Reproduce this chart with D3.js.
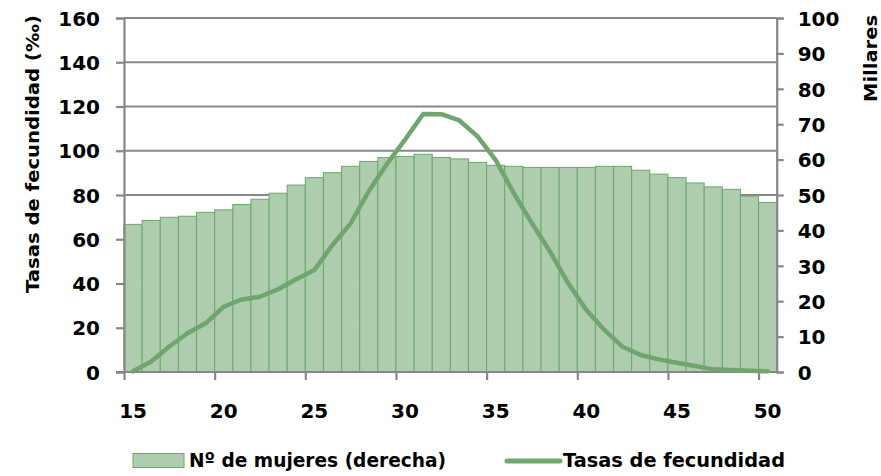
<!DOCTYPE html>
<html>
<head>
<meta charset="utf-8">
<script src="https://cdn.jsdelivr.net/npm/d3@7"></script>
<style>
html,body{margin:0;padding:0;background:#fff;}
svg{display:block;}
text{font-family:"DejaVu Sans",sans-serif;font-weight:bold;fill:#000;}
</style>
</head>
<body>
<svg id="chart" width="881" height="476"></svg>
<script>
const ages = [15,16,17,18,19,20,21,22,23,24,25,26,27,28,29,30,31,32,33,34,35,36,37,38,39,40,41,42,43,44,45,46,47,48,49,50];
const women = [41.7,42.8,43.7,44.0,45.1,45.8,47.3,48.8,50.5,52.8,54.9,56.3,58.1,59.5,60.6,60.9,61.5,60.6,60.2,59.2,58.4,58.1,57.8,57.8,57.8,57.8,58.1,58.1,57.0,55.9,54.9,53.4,52.3,51.6,49.7,47.9];
const rates = [0.3,4.7,11.5,17.5,22.0,29.5,32.8,34.0,37.4,41.9,46.1,57.4,67.2,81.7,94.0,105.0,116.6,116.5,113.7,106.5,95.8,80.8,67.2,54.4,40.1,28.0,19.0,11.4,7.7,5.7,4.2,2.7,1.2,0.9,0.6,0.3];
const xTicks = [15,20,25,30,35,40,45,50];
const leftTicks = [0,20,40,60,80,100,120,140,160];
const rightTicks = [0,10,20,30,40,50,60,70,80,90,100];
const leftTitle = "Tasas de fecundidad (‰)";
const rightTitle = "Millares";
const legendBars = "Nº de mujeres (derecha)";
const legendLine = "Tasas de fecundidad";

const svg = d3.select("#chart");
const X0 = 124, X1 = 776.7, Y0 = 372, Y1 = 18;
const x = d3.scaleLinear().domain([15, 51]).range([X0, X1]);
const yL = d3.scaleLinear().domain([0, 160]).range([Y0, Y1]);
const yR = d3.scaleLinear().domain([0, 100]).range([Y0, Y1]);

const gray = "#878787";
const barFill = "#aecdae";
const barStroke = "#6aa86a";
const lineCol = "#6fa56f";

// gridlines
svg.append("g").selectAll("line").data(leftTicks.filter(d => d > 0)).join("line")
  .attr("x1", X0).attr("x2", X1)
  .attr("y1", d => yL(d)).attr("y2", d => yL(d))
  .attr("stroke", gray).attr("stroke-width", 2.2);

// bars
svg.append("g").selectAll("rect").data(ages).join("rect")
  .attr("x", d => x(d))
  .attr("width", d => x(d + 1) - x(d))
  .attr("y", (d, i) => yR(women[i]))
  .attr("height", (d, i) => Y0 - yR(women[i]))
  .attr("fill", barFill).attr("stroke", barStroke).attr("stroke-width", 1);

// axes
const gL = svg.append("g").attr("transform", `translate(${X0},0)`)
  .call(d3.axisLeft(yL).tickValues(leftTicks).tickSize(8).tickFormat(d3.format("d")));
const gR = svg.append("g").attr("transform", `translate(${X1},0)`)
  .call(d3.axisRight(yR).tickValues(rightTicks).tickSize(7).tickFormat(d3.format("d")));
const gB = svg.append("g").attr("transform", `translate(0,${Y0})`)
  .call(d3.axisBottom(x).tickValues(xTicks).tickSize(8).tickFormat(""));

[gL, gR, gB].forEach(g => {
  g.select(".domain").attr("stroke", gray).attr("stroke-width", 2.2);
  g.selectAll(".tick line").attr("stroke", gray).attr("stroke-width", 2.2);
});
gB.select(".domain").attr("d", `M${X0 - 8},0H${X1}`);
gL.selectAll(".tick text").attr("x", -24).attr("dy", "0.36em")
  .style("font-size", "20px").style("font-family", "DejaVu Sans").style("font-weight", "bold").attr("fill", "#000");
gR.selectAll(".tick text").attr("x", 21).attr("dy", "0.36em")
  .style("font-size", "20px").style("font-family", "DejaVu Sans").style("font-weight", "bold").attr("fill", "#000");

// x labels at category centres
svg.append("g").selectAll("text").data(xTicks).join("text")
  .attr("x", d => x(d + 0.5)).attr("y", 418)
  .attr("text-anchor", "middle").style("font-size", "20px")
  .text(d => d);

// line
const line = d3.line().x((d, i) => x(ages[i] + 0.5)).y(d => yL(d));
svg.append("path").datum(rates)
  .attr("d", line).attr("fill", "none")
  .attr("stroke", lineCol).attr("stroke-width", 4.5)
  .attr("stroke-linejoin", "round").attr("stroke-linecap", "round");

// axis titles
svg.append("text").attr("transform", "translate(39,154) rotate(-90)")
  .attr("text-anchor", "middle").style("font-size", "18px")
  .attr("textLength", 278).attr("lengthAdjust", "spacingAndGlyphs")
  .text(leftTitle);
svg.append("text").attr("transform", "translate(877,58.5) rotate(-90)")
  .attr("text-anchor", "middle").style("font-size", "18px")
  .attr("textLength", 87).attr("lengthAdjust", "spacingAndGlyphs")
  .text(rightTitle);

// legend
svg.append("rect").attr("x", 133).attr("y", 453.5).attr("width", 51).attr("height", 14)
  .attr("fill", barFill).attr("stroke", barStroke).attr("stroke-width", 1);
svg.append("text").attr("x", 189).attr("y", 467).style("font-size", "20px")
  .attr("textLength", 257).attr("lengthAdjust", "spacingAndGlyphs")
  .text(legendBars);
svg.append("line").attr("x1", 507).attr("x2", 560).attr("y1", 461).attr("y2", 461)
  .attr("stroke", lineCol).attr("stroke-width", 5).attr("stroke-linecap", "round");
svg.append("text").attr("x", 563).attr("y", 467).style("font-size", "20px")
  .attr("textLength", 222).attr("lengthAdjust", "spacingAndGlyphs")
  .text(legendLine);
</script>
</body>
</html>
